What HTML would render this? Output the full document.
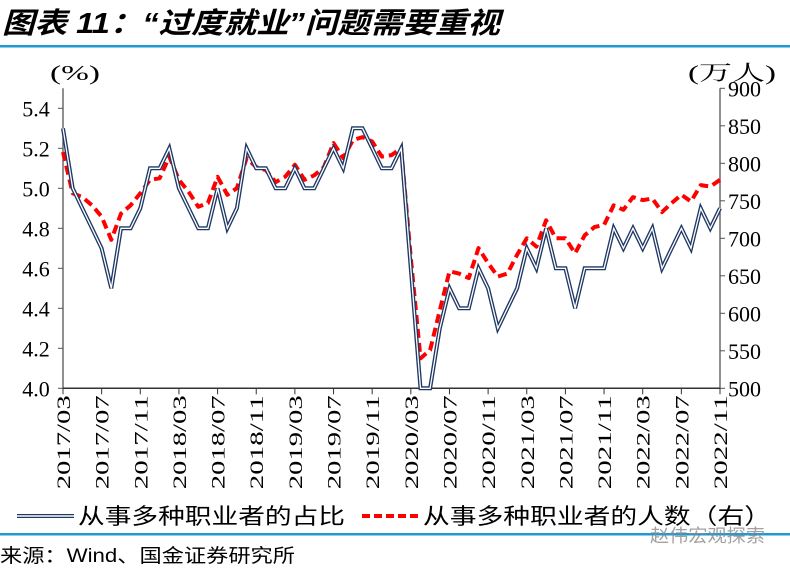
<!DOCTYPE html>
<html><head><meta charset="utf-8"><style>
body{margin:0;background:#fff;width:790px;height:568px;overflow:hidden}
svg{display:block}
</style></head><body>
<svg width="790" height="568" xmlns="http://www.w3.org/2000/svg">
<text x="2" y="33" textLength="498" lengthAdjust="spacingAndGlyphs" font-family="'Liberation Sans','Noto Sans CJK SC',sans-serif" font-size="29" font-weight="bold" font-style="italic" fill="#000">图表 11：“过度就业”问题需要重视</text>
<rect x="0" y="45" width="790" height="2.5" fill="#1c9ad6"/>
<text x="50" y="80" textLength="50" lengthAdjust="spacingAndGlyphs" font-family="'Liberation Serif','Noto Serif CJK SC',serif" font-size="21">(%)</text>
<text x="688" y="80" textLength="88" lengthAdjust="spacingAndGlyphs" font-family="'Liberation Serif','Noto Serif CJK SC',serif" font-size="21">(万人)</text>
<g id="axes"></g>
<g id="marks"></g>
<g>
<line x1="17" y1="516" x2="74" y2="516" stroke="#1f3864" stroke-width="4"/>
<line x1="17" y1="516" x2="74" y2="516" stroke="#fff" stroke-width="1.4"/>
<text x="78" y="524" textLength="267" lengthAdjust="spacingAndGlyphs" font-family="'Liberation Sans','Noto Sans CJK SC',sans-serif" font-size="22">从事多种职业者的占比</text>
<line x1="362" y1="516" x2="418" y2="516" stroke="#ff0000" stroke-width="4" stroke-dasharray="8,4"/>
<text x="423" y="524" textLength="348" lengthAdjust="spacingAndGlyphs" font-family="'Liberation Sans','Noto Sans CJK SC',sans-serif" font-size="22">从事多种职业者的人数（右）</text>
</g>
<rect x="0" y="533" width="790" height="2.5" fill="#1c9ad6"/>
<text x="0" y="562" textLength="295" lengthAdjust="spacingAndGlyphs" font-family="'Liberation Sans','Noto Sans CJK SC',sans-serif" font-size="19">来源：Wind、国金证券研究所</text>
<text x="650" y="542" textLength="115" lengthAdjust="spacingAndGlyphs" font-family="'Liberation Sans','Noto Sans CJK SC',sans-serif" font-size="18" fill="#8a8a8a" opacity="0.8">赵伟宏观探索</text>
</svg>
<script>
const shareValues=[5.3,5.0,4.9,4.8,4.7,4.5,4.8,4.8,4.9,5.1,5.1,5.2,5.0,4.9,4.8,4.8,5.0,4.8,4.9,5.2,5.1,5.1,5.0,5.0,5.1,5.0,5.0,5.1,5.2,5.1,5.3,5.3,5.2,5.1,5.1,5.2,4.6,4.0,4.0,4.3,4.5,4.4,4.4,4.6,4.5,4.3,4.4,4.5,4.7,4.6,4.8,4.6,4.6,4.4,4.6,4.6,4.6,4.8,4.7,4.8,4.7,4.8,4.6,4.7,4.8,4.7,4.9,4.8,4.9];
const countValues=[815,760,755,744,729,698,733,744,760,778,780,809,778,762,742,747,782,758,767,807,795,791,775,782,798,778,784,795,827,807,831,835,829,809,811,820,674,540,551,604,656,653,647,687,667,649,653,678,700,689,724,700,700,680,704,715,718,744,738,755,751,753,735,747,758,749,771,769,778];
const leftTicks=[4.0,4.2,4.4,4.6,4.8,5.0,5.2,5.4];
const rightTicks=[500,550,600,650,700,750,800,850,900];
const startYear=2017,startMonth=3;
const X0=63,X1=720,YB=388.3,YT=88.3;
const n=shareValues.length;
function xs(i){return X0+(X1-X0)*i/(n-1);}
function yl(v){return YB-(v-4.0)/(5.5-4.0)*(YB-YT);}
function yr(v){return YB-(v-500)/(900-500)*(YB-YT);}
function label(i){const m=startMonth-1+i;const y=startYear+Math.floor(m/12);const mm=m%12+1;return y+'/'+(mm<10?'0':'')+mm;}
const NS='http://www.w3.org/2000/svg';
function el(t,a,p){const e=document.createElementNS(NS,t);for(const k in a)e.setAttribute(k,a[k]);p.appendChild(e);return e;}
const axes=document.getElementById('axes'),marks=document.getElementById('marks');
const la=el('line',{x1:X0,y1:YT,x2:X0,y2:YB,stroke:'#555','stroke-width':1.3},axes);


const ra=el('line',{x1:X1,y1:YT,x2:X1,y2:YB,stroke:'#555','stroke-width':1.3},axes);


const xa=el('line',{x1:X0,y1:YB,x2:X1,y2:YB,stroke:'#333','stroke-width':1.5},axes);


leftTicks.forEach(v=>{const y=yl(v);
el('line',{x1:X0-5,y1:y,x2:X0,y2:y,stroke:'#555'},axes);
const t=el('text',{x:X0-27,y:y+8,'text-anchor':'middle','font-family':"'Liberation Serif',serif",'font-size':22},axes);
t.textContent=v.toFixed(1);

});
rightTicks.forEach(v=>{const y=yr(v);
el('line',{x1:X1,y1:y,x2:X1+5,y2:y,stroke:'#555'},axes);
const t=el('text',{x:X1+8,y:y+8,'font-family':"'Liberation Serif',serif",'font-size':22},axes);
t.textContent=v;

});
for(let i=0;i<n;i+=4){const x=xs(i);
el('line',{x1:x,y1:YB,x2:x,y2:YB+6,stroke:'#333'},axes);
const t=el('text',{x:0,y:0,'text-anchor':'end',textLength:94,lengthAdjust:'spacingAndGlyphs','font-family':"'Liberation Serif',serif",'font-size':19,transform:'translate('+(x+7)+','+(YB+7)+') rotate(-90)'},axes);
t.textContent=label(i);

}
const pr=countValues.map((v,i)=>xs(i).toFixed(1)+','+yr(v).toFixed(1)).join(' ');
const rl=el('polyline',{points:pr,fill:'none',stroke:'#ff0000','stroke-width':4,'stroke-dasharray':'9,5','stroke-linejoin':'round'},marks);


const pb=shareValues.map((v,i)=>xs(i).toFixed(1)+','+yl(v).toFixed(1)).join(' ');
const bl=el('polyline',{points:pb,fill:'none',stroke:'#1f3864','stroke-width':4,'stroke-linejoin':'miter'},marks);


el('polyline',{points:pb,fill:'none',stroke:'#fff','stroke-width':1.3},marks);
</script>
</body></html>
